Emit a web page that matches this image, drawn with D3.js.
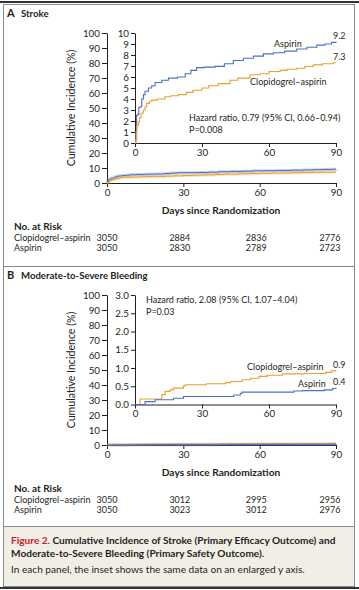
<!DOCTYPE html>
<html><head><meta charset="utf-8">
<script src="https://cdn.jsdelivr.net/npm/d3@7"></script>
<style>
html,body{margin:0;padding:0;background:#fff;}
svg text{font-family:Lato,"Open Sans",sans-serif;fill:#231f20;}
</style></head>
<body><svg id="c" width="359" height="590"></svg>
<script>
// ---------- data ----------
const xTicks = [0, 30, 60, 90];
const mainYTicks = [0,10,20,30,40,50,60,70,80,90,100];
const strokeInsetTicks = [0,1,2,3,4,5,6,7,8,9,10];
const bleedInsetTicks = [0,0.5,1.0,1.5,2.0,2.5,3.0];

const strokeAspirinDay = [0,0.3,0.7,1.2,1.7,2.2,3,3.8,4.5,6,7.5,9,12,15,19,22.5,25,27.6,31,35.8,40,44,48.5,53,57.5,62,67,72.4,77,81.4,85,88,90];
const strokeAspirinPct = [0,1.0,2.5,2.6,3.2,3.3,4.0,4.4,4.7,5.0,5.2,5.5,5.7,5.9,6.0,6.3,6.6,6.85,6.9,6.97,7.2,7.5,7.7,7.9,8.1,8.2,8.35,8.55,8.7,8.9,9.0,9.15,9.2];
const strokeClopDay = [0,0.4,0.8,1.5,2.0,2.7,3.7,4.5,5.2,6.5,7.5,10,13.4,16,19.4,23,26,29.9,33,37.3,42.5,46,51.5,56,60,65,68,72.4,76,79.8,84,88.8,90];
const strokeClopPct = [0,0.3,1.6,1.9,2.3,2.7,3.0,3.3,3.6,3.8,3.9,4.0,4.2,4.3,4.4,4.6,4.8,5.0,5.2,5.4,5.7,5.9,6.2,6.3,6.5,6.6,6.7,6.8,6.95,7.1,7.2,7.3,7.3];

const bleedClopDay = [0,2.25,12,13.5,15.7,17.2,21.7,22.5,32,40.5,42.7,48,51.7,55.5,59.2,66,75.7,85.5,88,90];
const bleedClopPct = [0,0.15,0.27,0.36,0.4,0.45,0.51,0.54,0.57,0.6,0.63,0.68,0.72,0.77,0.8,0.84,0.85,0.88,0.92,0.93];
const bleedAspirinDay = [0,4.5,9,17.3,21.7,44.2,47.2,48,71.2,75,84.7,88.5,90];
const bleedAspirinPct = [0,0.08,0.13,0.17,0.22,0.26,0.31,0.34,0.37,0.38,0.40,0.44,0.46];

const riskGroups = ["Clopidogrel\u2013aspirin","Aspirin"];
const strokeRiskClop = [3050,2884,2836,2776];
const strokeRiskAsp = [3050,2830,2789,2723];
const bleedRiskClop = [3050,3012,2995,2956];
const bleedRiskAsp = [3050,3023,3012,2976];

const BLUE = "#4a70c2", ORANGE = "#e9a030", INK = "#231f20";

const svg = d3.select("#c");

// frames
svg.append("rect").attr("x",0).attr("y",1).attr("width",359).attr("height",2).attr("fill","#333");
svg.append("rect").attr("x",3.5).attr("y",4.5).attr("width",351).attr("height",262).attr("fill","#fff").attr("stroke","#8a8a8a");
svg.append("rect").attr("x",3.5).attr("y",266.5).attr("width",351).attr("height",260).attr("fill","#fff").attr("stroke","#8a8a8a");
svg.append("rect").attr("x",3.5).attr("y",526.5).attr("width",351).attr("height",60).attr("fill","#f1eee6").attr("stroke","#8a8a8a");
svg.append("rect").attr("x",0).attr("y",587).attr("width",359).attr("height",2).attr("fill","#333");

function styleAxis(g){
  g.select(".domain").attr("stroke",INK).attr("stroke-width",1);
  g.selectAll(".tick line").attr("stroke",INK);
  g.selectAll(".tick text").attr("font-family","Lato, sans-serif").attr("font-size","9.8px").attr("fill",INK);
}

function panel(o){
  const top = o.top;
  const g = svg.append("g");
  g.append("text").attr("x",7).attr("y",top-16).attr("font-size","11px").attr("font-weight","bold").text(o.letter);
  g.append("text").attr("x",21).attr("y",top-16).attr("font-size","9.6px").attr("font-weight","bold").text(o.title);

  const x = d3.scaleLinear().domain([0,90]).range([107,336]);
  const y = d3.scaleLinear().domain([0,100]).range([top+150, top]);
  const xi = d3.scaleLinear().domain([0,90]).range([135,336]);
  const yi = d3.scaleLinear().domain([0,o.insetMax]).range([top+o.insetH, top]);

  g.append("g").attr("transform","translate(107,0)")
    .call(d3.axisLeft(y).tickValues(mainYTicks).tickSize(5).tickSizeOuter(0).tickPadding(2)).call(styleAxis);
  g.append("g").attr("transform",`translate(0,${top+150})`)
    .call(d3.axisBottom(x).tickValues(xTicks).tickSize(4).tickSizeOuter(0).tickPadding(2)).call(styleAxis);
  g.append("g").attr("transform","translate(135,0)")
    .call(d3.axisLeft(yi).tickValues(o.insetTicks).tickSize(4).tickSizeOuter(0).tickPadding(2).tickFormat(o.insetFmt)).call(styleAxis);
  g.append("g").attr("transform",`translate(0,${top+o.insetH})`)
    .call(d3.axisBottom(xi).tickValues(xTicks).tickSize(4).tickSizeOuter(0).tickPadding(2)).call(styleAxis);

  g.append("text").attr("transform",`translate(75,${top+75}) rotate(-90)`).attr("text-anchor","middle")
    .attr("font-size","10.6px").text("Cumulative Incidence (%)");
  g.append("text").attr("x",221).attr("y",top+181).attr("text-anchor","middle")
    .attr("font-size","10.2px").attr("font-weight","bold").text("Days since Randomization");

  const mk = (sx,sy)=>d3.line().x(d=>sx(d[0])).y(d=>sy(d[1])).curve(d3.curveStepAfter);
  o.series.forEach(s=>{
    const pts = s.day.map((d,i)=>[d,s.pct[i]]);
    g.append("path").attr("d",mk(x,y)(pts)).attr("fill","none").attr("stroke",s.color).attr("stroke-opacity",0.3).attr("stroke-width",3);
    g.append("path").attr("d",mk(x,y)(pts)).attr("fill","none").attr("stroke",s.color).attr("stroke-width",1);
    g.append("path").attr("d",mk(xi,yi)(pts)).attr("fill","none").attr("stroke",s.color).attr("stroke-width",1.1);
    g.append("text").attr("x",s.lx).attr("y",s.ly).attr("font-size","9px").text(s.name);
    g.append("text").attr("x",333).attr("y",yi(s.pct[s.pct.length-1])-3).attr("font-size","9px").text(s.end);
  });

  g.append("text").attr("x",o.hx).attr("y",o.hy).attr("font-size","9px").text(o.hr);
  g.append("text").attr("x",o.hx).attr("y",o.hy+12).attr("font-size","9px").text(o.p);

  const ry = top+197;
  g.append("text").attr("x",14).attr("y",ry).attr("font-size","10px").attr("font-weight","bold").text("No. at Risk");
  const offs = [0,-3.5,-3.5,-6];
  [o.riskA,o.riskB].forEach((row,ri)=>{
    g.append("text").attr("x",14).attr("y",ry+11+ri*10).attr("font-size","9px").text(riskGroups[ri]);
    row.forEach((v,i)=>{
      g.append("text").attr("x",x(xTicks[i])+offs[i]).attr("y",ry+11+ri*10).attr("text-anchor","middle").attr("font-size","9px").text(v);
    });
  });
}

panel({letter:"A", title:"Stroke", top:33, insetMax:10, insetH:110, insetTicks:strokeInsetTicks, insetFmt:d3.format("d"),
  hr:"Hazard ratio, 0.79 (95% CI, 0.66\u20130.94)", p:"P=0.008", hx:189, hy:121,
  series:[
    {name:"Aspirin", day:strokeAspirinDay, pct:strokeAspirinPct, color:BLUE, lx:274, ly:47, end:"9.2"},
    {name:"Clopidogrel\u2013aspirin", day:strokeClopDay, pct:strokeClopPct, color:ORANGE, lx:250, ly:85, end:"7.3"}
  ],
  riskA:strokeRiskClop, riskB:strokeRiskAsp});

panel({letter:"B", title:"Moderate-to-Severe Bleeding", top:295, insetMax:3, insetH:109.5, insetTicks:bleedInsetTicks, insetFmt:d3.format(".1f"),
  hr:"Hazard ratio, 2.08 (95% CI, 1.07\u20134.04)", p:"P=0.03", hx:146, hy:303,
  series:[
    {name:"Clopidogrel\u2013aspirin", day:bleedClopDay, pct:bleedClopPct, color:ORANGE, lx:247, ly:370, end:"0.9"},
    {name:"Aspirin", day:bleedAspirinDay, pct:bleedAspirinPct, color:BLUE, lx:298, ly:387, end:"0.4"}
  ],
  riskA:bleedRiskClop, riskB:bleedRiskAsp});

const cap = svg.append("g");
const t1 = cap.append("text").attr("x",11).attr("y",544).attr("font-size","10.1px").attr("font-weight","bold");
t1.append("tspan").attr("fill","#c8202f").text("Figure 2. ");
t1.append("tspan").text("Cumulative Incidence of Stroke (Primary Efficacy Outcome) and");
cap.append("text").attr("x",11).attr("y",557).attr("font-size","10.1px").attr("font-weight","bold").text("Moderate-to-Severe Bleeding (Primary Safety Outcome).");
cap.append("text").attr("x",11).attr("y",573).attr("font-size","10.1px").attr("fill","#3a3a3a").text("In each panel, the inset shows the same data on an enlarged y axis.");
</script></body></html>
